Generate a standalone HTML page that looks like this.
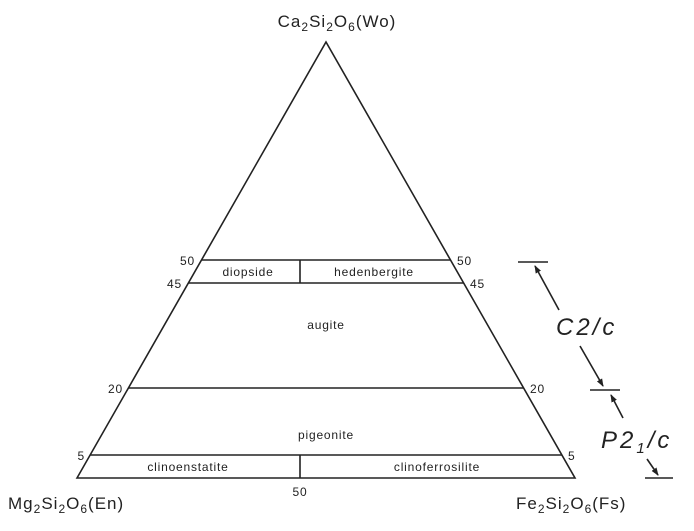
<!DOCTYPE html>
<html><head><meta charset="utf-8"><style>
body{margin:0;background:#fff;}
svg{display:block;font-family:"Liberation Sans",sans-serif;}
</style></head><body>
<svg width="694" height="531" viewBox="0 0 694 531">
<defs><marker id="a" markerWidth="8" markerHeight="8" refX="7" refY="4" orient="auto" markerUnits="userSpaceOnUse"><path d="M0,1 L8,4 L0,7 z" fill="#222"/></marker></defs>
<g stroke="#222" stroke-width="1.6" fill="none">
<path d="M77,478 L326,42 L575,478 Z"/>
<line x1="201.5" y1="260" x2="450.5" y2="260"/>
<line x1="188.4" y1="283" x2="463.6" y2="283"/>
<line x1="300" y1="260" x2="300" y2="283"/>
<line x1="128.4" y1="388" x2="523.6" y2="388"/>
<line x1="90.1" y1="455" x2="561.9" y2="455"/>
<line x1="300" y1="455" x2="300" y2="478"/>
<line x1="518" y1="262" x2="548" y2="262"/>
<line x1="590" y1="390" x2="620" y2="390"/>
<line x1="645" y1="478" x2="673" y2="478"/>
<line x1="559" y1="310" x2="535" y2="266" marker-end="url(#a)"/>
<line x1="580" y1="346" x2="603" y2="386" marker-end="url(#a)"/>
<line x1="623" y1="418" x2="611" y2="395" marker-end="url(#a)"/>
<line x1="647" y1="459" x2="658" y2="475" marker-end="url(#a)"/>
</g>
<g fill="#222" font-size="12" letter-spacing="0.8">
<text x="195" y="265" text-anchor="end">50</text>
<text x="182" y="288" text-anchor="end">45</text>
<text x="123" y="393" text-anchor="end">20</text>
<text x="85" y="460" text-anchor="end">5</text>
<text x="457" y="265">50</text>
<text x="470" y="288">45</text>
<text x="530" y="393">20</text>
<text x="568" y="460">5</text>
<text x="300" y="496" text-anchor="middle">50</text>
<text x="248" y="276" text-anchor="middle">diopside</text>
<text x="374" y="276" text-anchor="middle">hedenbergite</text>
<text x="326" y="329" text-anchor="middle">augite</text>
<text x="326" y="439" text-anchor="middle">pigeonite</text>
<text x="188" y="471" text-anchor="middle">clinoenstatite</text>
<text x="437" y="471" text-anchor="middle">clinoferrosilite</text>
</g>
<g fill="#222" font-size="17" letter-spacing="1">
<text x="337" y="27" text-anchor="middle">Ca<tspan font-size="12" dy="4">2</tspan><tspan dy="-4">Si</tspan><tspan font-size="12" dy="4">2</tspan><tspan dy="-4">O</tspan><tspan font-size="12" dy="4">6</tspan><tspan dy="-4">(Wo)</tspan></text>
<text x="8" y="509">Mg<tspan font-size="12" dy="4">2</tspan><tspan dy="-4">Si</tspan><tspan font-size="12" dy="4">2</tspan><tspan dy="-4">O</tspan><tspan font-size="12" dy="4">6</tspan><tspan dy="-4">(En)</tspan></text>
<text x="516" y="509">Fe<tspan font-size="12" dy="4">2</tspan><tspan dy="-4">Si</tspan><tspan font-size="12" dy="4">2</tspan><tspan dy="-4">O</tspan><tspan font-size="12" dy="4">6</tspan><tspan dy="-4">(Fs)</tspan></text>
</g>
<g fill="#222" font-size="24" font-style="italic">
<text x="556" y="335" letter-spacing="3">C2/c</text>
<text x="601" y="448" letter-spacing="3">P2<tspan font-size="15" dy="5">1</tspan><tspan dy="-5">/c</tspan></text>
</g>
</svg>
</body></html>
